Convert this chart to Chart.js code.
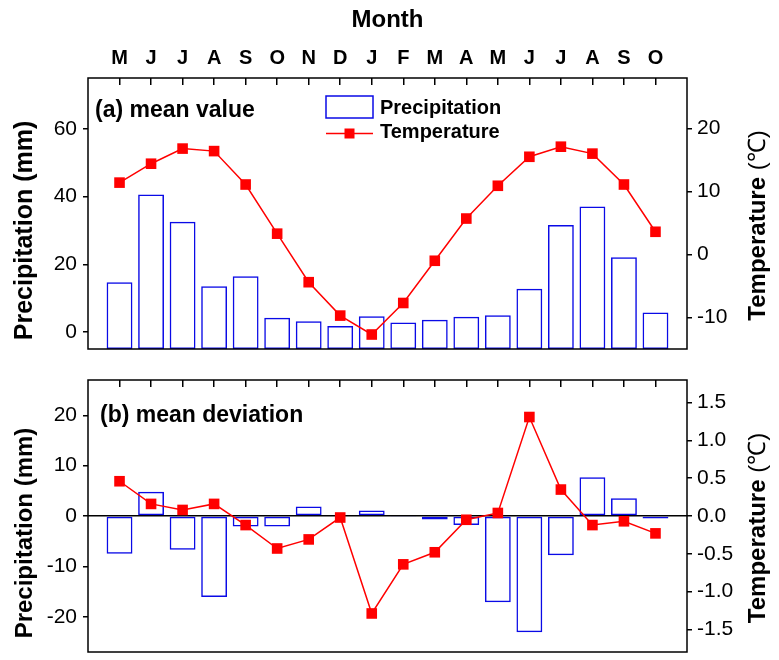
<!DOCTYPE html>
<html>
<head>
<meta charset="utf-8">
<script src="https://cdn.jsdelivr.net/npm/chart.js@4.4.1/dist/chart.umd.min.js"></script>
<style>
  html, body { margin: 0; padding: 0; background: #fff; }
  #wrap { position: relative; width: 779px; height: 660px; }
  canvas { position: absolute; left: 0; }
  #top { top: 0; }
  #bot { top: 360px; }
</style>
</head>
<body>
<div id="wrap">
  <canvas id="top" width="779" height="360"></canvas>
  <canvas id="bot" width="779" height="300"></canvas>
</div>
<script>
// Months from May to October of the following year
const months = ['M', 'J', 'J', 'A', 'S', 'O', 'N', 'D', 'J', 'F', 'M', 'A', 'M', 'J', 'J', 'A', 'S', 'O'];

// (a) mean values
const precipMean = [14.7, 40.6, 32.6, 13.5, 16.5, 4.2, 3.2, 1.8, 4.7, 2.8, 3.6, 4.5, 5.0, 12.8, 31.6, 37.1, 22.1, 5.8];
const tempMean = [11.4, 14.4, 16.8, 16.4, 11.1, 3.3, -4.4, -9.7, -12.7, -7.7, -1.0, 5.7, 10.9, 15.5, 17.1, 16.0, 11.1, 3.6];

// (b) mean deviations
const precipDev = [-7.5, 4.8, -6.7, -16.1, -2.1, -2.1, 1.9, 0, 1.1, -0.2, -0.7, -1.8, -17.1, -23.1, -7.8, 7.7, 3.5, -0.5];
const tempDev = [0.46, 0.16, 0.08, 0.16, -0.12, -0.43, -0.31, -0.02, -1.29, -0.64, -0.48, -0.05, 0.04, 1.31, 0.35, -0.12, -0.07, -0.23];

// tick labels
const precipMeanTicks = [0, 20, 40, 60];
const tempMeanTicks = [-10, 0, 10, 20];
const precipDevTicks = [-20, -10, 0, 10, 20];
const tempDevTicks = [-1.5, -1.0, -0.5, 0.0, 0.5, 1.0, 1.5];

const FONT = "'Liberation Sans', Arial, sans-serif";
const BLUE = '#0a0ae6';
const RED = '#ff0000';

Chart.defaults.font.family = FONT;
Chart.defaults.color = '#000';

const toXY = arr => arr.map((v, i) => ({ x: i + 1, y: v }));
const setTicks = list => s => { s.ticks = list.map(v => ({ value: v })); };
// fixed axis width, and no extra room for the end labels
const fitY = w => s => { s.width = w; s.paddingTop = 0; s.paddingBottom = 0; };

// frame, panel label, axis titles and legend
const decor = {
  id: 'decor',
  afterDatasetsDraw(chart, args, o) {
    const { ctx, chartArea: a } = chart;
    ctx.save();
    ctx.strokeStyle = '#000';
    ctx.lineWidth = 1.5;
    ctx.strokeRect(a.left, a.top, a.right - a.left, a.bottom - a.top);

    ctx.fillStyle = '#000';
    ctx.textBaseline = 'alphabetic';
    ctx.textAlign = 'left';
    ctx.font = 'bold 23px ' + FONT;
    ctx.fillText(o.panel, a.left + o.panelDx, a.top + o.panelDy);

    const midY = (a.top + a.bottom) / 2;

    // left title, reads bottom to top
    ctx.save();
    ctx.translate(32, midY + 17);
    ctx.rotate(-Math.PI / 2);
    ctx.font = 'bold ' + o.leftSize + 'px ' + FONT;
    ctx.textAlign = 'center';
    ctx.fillText('Precipitation (mm)', 0, 0);
    ctx.restore();

    // right title, also bottom to top, unit in regular weight
    ctx.save();
    ctx.translate(765, midY + 12);
    ctx.rotate(-Math.PI / 2);
    const bold = 'bold 24px ' + FONT;
    const reg = '24px ' + FONT;
    ctx.font = bold;
    const w1 = ctx.measureText('Temperature ').width;
    ctx.font = reg;
    const w2 = ctx.measureText('(\u2103)').width;
    ctx.font = bold;
    ctx.fillText('Temperature ', -(w1 + w2) / 2, 0);
    ctx.font = reg;
    ctx.fillText('(\u2103)', -(w1 + w2) / 2 + w1, 0);
    ctx.restore();

    if (o.legend) {
      const lx = a.left + 238;
      ctx.strokeStyle = BLUE;
      ctx.lineWidth = 1.5;
      ctx.strokeRect(lx, a.top + 18, 47, 22);
      ctx.strokeStyle = RED;
      ctx.beginPath();
      ctx.moveTo(lx, a.top + 55.5);
      ctx.lineTo(lx + 47, a.top + 55.5);
      ctx.stroke();
      ctx.fillStyle = RED;
      ctx.fillRect(lx + 18.5, a.top + 50.5, 10, 10);
      ctx.fillStyle = '#000';
      ctx.font = 'bold 20px ' + FONT;
      ctx.fillText('Precipitation', lx + 54, a.top + 36);
      ctx.fillText('Temperature', lx + 54, a.top + 60);
    }
    ctx.restore();
  }
};

function makeChart(id, cfg) {
  return new Chart(document.getElementById(id), {
    type: 'bar',
    data: {
      datasets: [
        {
          type: 'line',
          label: 'Temperature',
          yAxisID: 'y1',
          data: toXY(cfg.temp),
          borderColor: RED,
          borderWidth: 1.5,
          pointStyle: 'rect',
          pointRadius: 7.5,
          pointBackgroundColor: RED,
          pointBorderWidth: 0,
          tension: 0,
          order: 0
        },
        {
          type: 'bar',
          label: 'Precipitation',
          yAxisID: 'y',
          data: toXY(cfg.precip),
          base: cfg.base,
          backgroundColor: 'rgba(255,255,255,0)',
          borderColor: BLUE,
          borderWidth: 1.5,
          borderSkipped: false,
          categoryPercentage: 0.82,
          barPercentage: 1,
          order: 1
        }
      ]
    },
    options: {
      responsive: false,
      animation: false,
      devicePixelRatio: 1,
      layout: { padding: { left: 0, right: 0, top: 0, bottom: cfg.padBottom } },
      scales: {
        x: {
          type: 'linear',
          position: 'top',
          min: 0,
          max: months.length + 1,
          offset: false,
          border: { display: false },
          grid: {
            offset: false,
            drawOnChartArea: false,
            tickLength: -7,
            lineWidth: 1.5,
            tickColor: c => (c.tick && c.tick.value >= 1 && c.tick.value <= months.length) ? '#000' : 'rgba(0,0,0,0)'
          },
          ticks: {
            stepSize: 1,
            autoSkip: false,
            maxRotation: 0,
            padding: 15,
            font: { size: 20, weight: 'bold' },
            callback: v => cfg.showMonths ? (months[v - 1] || '') : ''
          },
          title: {
            display: cfg.showMonths,
            text: 'Month',
            padding: { top: 6, bottom: 0 },
            font: { size: 24, weight: 'bold' }
          },
          afterFit: s => { s.height = cfg.xHeight; s.paddingLeft = 0; s.paddingRight = 0; }
        },
        y: {
          position: 'left',
          min: cfg.pMin,
          max: cfg.pMax,
          border: { display: false },
          grid: {
            drawOnChartArea: cfg.zeroLine,
            color: c => (cfg.zeroLine && c.tick && c.tick.value === 0) ? '#000' : 'rgba(0,0,0,0)',
            tickColor: '#000',
            lineWidth: 1.5,
            tickLength: 5
          },
          ticks: { padding: 6, font: { size: 21 } },
          afterBuildTicks: setTicks(cfg.pTicks),
          afterFit: fitY(88)
        },
        y1: {
          position: 'right',
          min: cfg.tMin,
          max: cfg.tMax,
          border: { display: false },
          grid: { drawOnChartArea: false, tickColor: '#000', lineWidth: 1.5, tickLength: 5 },
          ticks: {
            padding: 5,
            font: { size: 21 },
            callback: v => cfg.tFmt(v)
          },
          afterBuildTicks: setTicks(cfg.tTicks),
          afterFit: fitY(92)
        }
      },
      plugins: {
        legend: { display: false },
        tooltip: { enabled: false },
        decor: cfg.decor
      }
    },
    plugins: [decor]
  });
}

makeChart('top', {
  precip: precipMean, temp: tempMean, base: -5,
  pMin: -5, pMax: 75, pTicks: precipMeanTicks,
  tMin: -15, tMax: 28, tTicks: tempMeanTicks, tFmt: v => String(v),
  showMonths: true, xHeight: 78, padBottom: 11, zeroLine: false,
  decor: { panel: '(a) mean value', panelDx: 7, panelDy: 39, leftSize: 25, legend: true }
});

makeChart('bot', {
  precip: precipDev, temp: tempDev, base: 0,
  pMin: -27, pMax: 27, pTicks: precipDevTicks,
  tMin: -1.8, tMax: 1.8, tTicks: tempDevTicks, tFmt: v => v.toFixed(1),
  showMonths: false, xHeight: 20, padBottom: 8, zeroLine: true,
  decor: { panel: '(b) mean deviation', panelDx: 12, panelDy: 42, leftSize: 24, legend: false }
});
</script>
</body>
</html>
